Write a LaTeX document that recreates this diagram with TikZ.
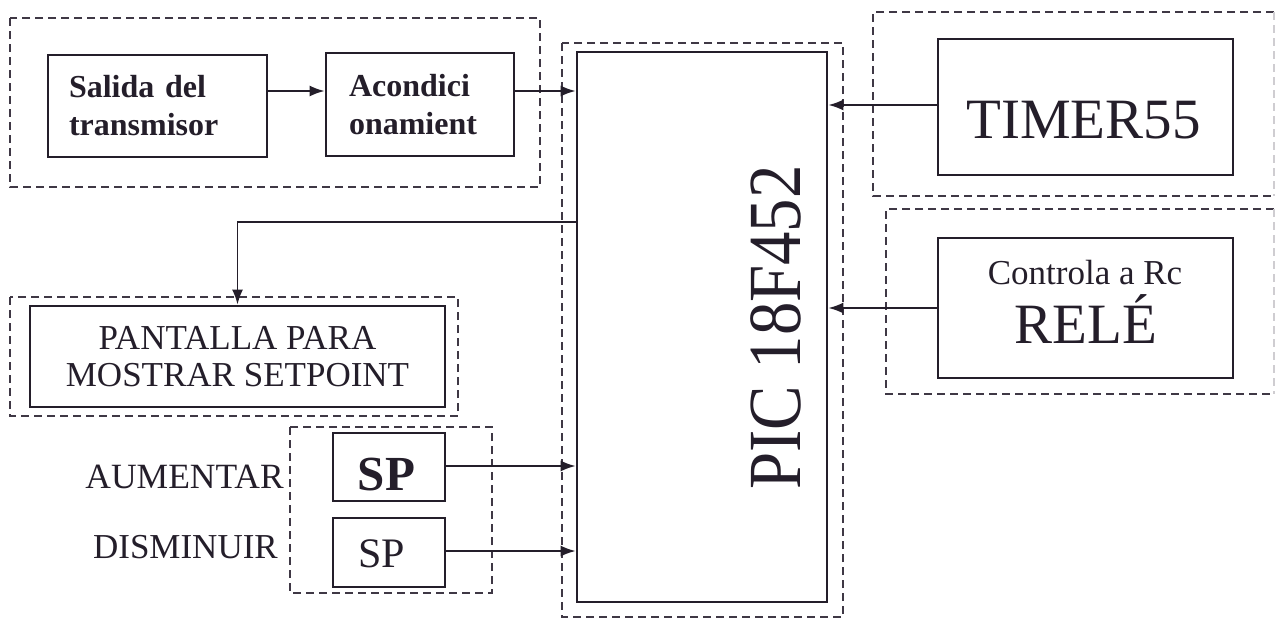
\documentclass[tikz,border=0pt]{standalone}
\usepackage{fontspec}
\setmainfont{Liberation Serif}
\usetikzlibrary{arrows.meta,calc}
\definecolor{ink}{HTML}{241E2A}
\definecolor{dashc}{HTML}{3F3845}
\begin{document}
\begin{tikzpicture}[x=1pt,y=-1pt,
  box/.style={draw=ink,line width=2.8pt,inner sep=0pt,text=ink},
  txt/.style={inner sep=0pt,text=ink},
  group/.style={draw=dashc,line width=2.7pt,dash pattern=on 8pt off 5pt},
  faint/.style={draw=dashc!25,line width=2pt,dash pattern=on 8pt off 5pt},
  arr/.style={draw=ink,line width=1.8pt,-{Latex[length=15pt,width=11pt]}}]
\fill[white] (0,0) rectangle (1276,619);
\useasboundingbox (0,0) rectangle (1276,619);

% dashed groups
\draw[group] (10,18) rectangle (540,187);
\draw[group] (562,43) rectangle (843,617);
\draw[group] (1274,12) -- (873,12) -- (873,196) -- (1274,196);
\draw[faint] (1274,12) -- (1274,196);
\draw[group] (1274,209) -- (886,209) -- (886,394) -- (1274,394);
\draw[faint] (1274,209) -- (1274,394);
\draw[group] (10,297) rectangle (458,416);
\draw[group] (290,427) rectangle (492,593);

% boxes
\node[box,minimum width=219pt,minimum height=102pt,text width=177pt,inner xsep=21pt,align=left,
  font=\bfseries\fontsize{32}{38}\selectfont] (sal) at (157.5,106) {Salida del\\transmisor};
\node[box,minimum width=188pt,minimum height=103pt,text width=142pt,inner xsep=23pt,align=left,
  font=\bfseries\fontsize{32}{38}\selectfont] (aco) at (420,104.5) {Acondici\\onamient};
\node[box,minimum width=250pt,minimum height=550pt] (pic) at (702,327) {};
\node[box,minimum width=295pt,minimum height=136pt] (tim) at (1085.5,107) {};
\node[box,minimum width=295pt,minimum height=140pt] (rel) at (1085.5,308) {};
\node[box,minimum width=415pt,minimum height=101pt,align=center,
  font=\fontsize{35}{37}\selectfont] (pan) at (237.5,356.5) {PANTALLA PARA\\MOSTRAR SETPOINT};
\node[box,minimum width=112pt,minimum height=68pt] (sp1) at (389,467) {};
\node[box,minimum width=112pt,minimum height=69pt] (sp2) at (389,552.5) {};

% texts
\node[txt,anchor=base,font=\fontsize{57}{60}\selectfont] (timt) at (1083.5,138) {TIMER55};
\node[txt,anchor=base,font=\fontsize{35}{40}\selectfont] (ctl) at (1085,284) {Controla a Rc};
\node[txt,anchor=base,font=\fontsize{57}{60}\selectfont] (relt) at (1086,343) {RELÉ};
\node[txt,anchor=base,rotate=90,font=\fontsize{75}{80}\selectfont] (pict) at (800,327.5) {\scalebox{0.89}[1]{PIC 18F452}};
\node[txt,anchor=base,font=\bfseries\fontsize{49}{50}\selectfont] (sp1t) at (386.5,490) {SP};
\node[txt,anchor=base,font=\fontsize{42}{44}\selectfont] (sp2t) at (381.5,567) {SP};
\node[txt,anchor=base east,font=\fontsize{35.5}{40}\selectfont] (aum) at (284,488) {AUMENTAR};
\node[txt,anchor=base east,font=\fontsize{35}{40}\selectfont] (dis) at (278,558) {DISMINUIR};

% connectors
\coordinate (c1) at ([yshift=15pt]sal.east);
\coordinate (c2) at ([yshift=13.5pt]aco.west);
\draw[arr] (c1) -- (c2);
\coordinate (c3) at ([yshift=13.5pt]aco.east);
\draw[arr] (c3) -- (c3 -| pic.west);
\coordinate (c4) at ([yshift=2pt]tim.west);
\draw[arr] (c4) -- (c4 -| pic.east);
\draw[arr] (rel.west) -- (rel.west -| pic.east);
\coordinate (c5) at ([yshift=105pt]pic.west);
\draw[arr] (c5) -| (pan.north);
\coordinate (c6) at ([yshift=1pt]sp1.east);
\draw[arr] (c6) -- (c6 -| pic.west);
\coordinate (c7) at ([yshift=1.5pt]sp2.east);
\draw[arr] (c7) -- (c7 -| pic.west);
\end{tikzpicture}
\end{document}
